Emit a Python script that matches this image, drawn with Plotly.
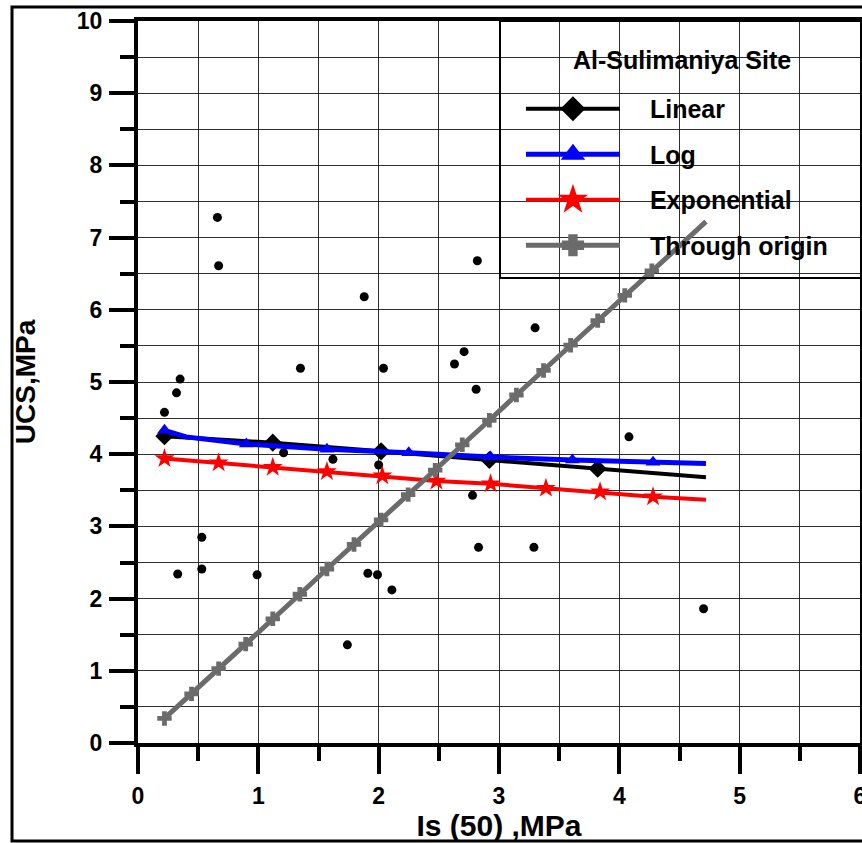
import plotly.graph_objects as go

# ---- data ----
pt_x = [0.66, 0.67, 0.22, 0.32, 0.35, 0.33, 0.53, 0.53, 0.99, 1.21, 1.35, 1.62, 1.74, 1.88, 1.91,
        1.99, 2.00, 2.03, 2.04, 2.11, 2.63, 2.71, 2.81, 2.78, 2.83, 2.82, 3.30, 3.29, 4.08, 4.70]
pt_y = [7.28, 6.61, 4.58, 4.85, 5.04, 2.34, 2.85, 2.41, 2.33, 4.02, 5.19, 3.93, 1.36, 6.18, 2.35,
        2.33, 3.85, 4.03, 5.19, 2.12, 5.25, 5.42, 4.90, 3.43, 2.71, 6.68, 5.75, 2.71, 4.24, 1.86]

lin_x = [0.22, 1.12, 2.02, 2.92, 3.82, 4.72]
lin_y = [4.25, 4.16, 4.04, 3.92, 3.80, 3.68]
lin_mx = [0.22, 1.12, 2.02, 2.92, 3.82]
lin_my = [4.25, 4.16, 4.04, 3.92, 3.80]

log_x = [0.22, 0.40, 0.90, 1.57, 2.25, 2.93, 3.61, 4.28, 4.72]
log_y = [4.33, 4.24, 4.14, 4.07, 4.02, 3.96, 3.92, 3.89, 3.87]
log_mx = [0.22, 0.90, 1.57, 2.25, 2.93, 3.61, 4.28]
log_my = [4.33, 4.14, 4.07, 4.02, 3.96, 3.92, 3.89]

exp_x = [0.22, 0.67, 1.12, 1.57, 2.03, 2.48, 2.93, 3.39, 3.84, 4.28, 4.72]
exp_y = [3.94, 3.88, 3.82, 3.76, 3.70, 3.63, 3.59, 3.53, 3.48, 3.41, 3.37]

org_x = [0.22, 0.445, 0.67, 0.895, 1.12, 1.345, 1.57, 1.795, 2.02, 2.245, 2.47, 2.695,
         2.92, 3.145, 3.37, 3.595, 3.82, 4.045, 4.27, 4.72]
org_y = [0.34, 0.68, 1.03, 1.37, 1.72, 2.06, 2.41, 2.75, 3.09, 3.44, 3.78, 4.13,
         4.47, 4.82, 5.16, 5.51, 5.85, 6.20, 6.54, 7.22]

series_names = ["Linear", "Log", "Exponential", "Through origin"]
legend_title = "Al-Sulimaniya Site"
x_title = "Is (50) ,MPa"
y_title = "UCS,MPa"

BLACK = "#000000"
BLUE = "#0000ff"
RED = "#ff0000"
GRAY = "#6b6b6b"
FONT = "Liberation Sans, Arial, sans-serif"
GRID = "#2e2e2e"

fig = go.Figure()

# observed points
fig.add_trace(go.Scatter(x=pt_x, y=pt_y, mode="markers", showlegend=False,
                         marker=dict(color=BLACK, size=9)))

fits = [
    (series_names[0], lin_x, lin_y, lin_mx, lin_my, BLACK, 4, "diamond", 14),
    (series_names[1], log_x, log_y, log_mx, log_my, BLUE, 5, "triangle-up", 13),
    (series_names[2], exp_x, exp_y, exp_x[:-1], exp_y[:-1], RED, 4, "star", 15),
    (series_names[3], org_x, org_y, org_x[:-1], org_y[:-1], GRAY, 5, "cross", 12),
]
for i, (nm, lx, ly, mx, my, col, lw, sym, ms) in enumerate(fits):
    fig.add_trace(go.Scatter(x=lx, y=ly, mode="lines", showlegend=False,
                             line=dict(color=col, width=lw)))
    fig.add_trace(go.Scatter(x=mx, y=my, mode="markers", showlegend=False,
                             marker=dict(color=col, size=ms, symbol=sym, line=dict(width=0))))
    fig.add_trace(go.Scatter(x=[None], y=[None], mode="lines+markers",
                             name="\u2002\u2002" + nm,
                             legendgroup="g%d" % i,
                             line=dict(color=col, width=lw),
                             marker=dict(color=col, size=16, symbol=sym,
                                         line=dict(width=3, color=col))))

axis_common = dict(
    showline=True, linewidth=4, linecolor=BLACK, mirror=True,
    ticks="outside", tickwidth=4, tickcolor=BLACK,
    showgrid=True, gridcolor=GRID, gridwidth=1.3,
    zeroline=False, dtick=1, tick0=0, automargin=False,
    ticklabeloverflow="allow",
    tickfont=dict(family=FONT, size=23, color=BLACK, weight="bold"),
)

fig.update_xaxes(
    range=[0, 6], ticklen=27, ticklabelstandoff=2,
    minor=dict(dtick=0.5, ticks="outside", ticklen=14, tickwidth=4, tickcolor=BLACK,
               showgrid=True, gridcolor=GRID, gridwidth=1.3),
    title=dict(text=x_title, standoff=4,
               font=dict(family=FONT, size=30, color=BLACK, weight="bold")),
    **axis_common)
fig.update_yaxes(
    range=[0, 10], ticklen=25, ticklabelstandoff=2,
    minor=dict(dtick=0.5, ticks="outside", ticklen=14, tickwidth=4, tickcolor=BLACK,
               showgrid=True, gridcolor=GRID, gridwidth=1.3),
    title=dict(text=y_title, standoff=34,
               font=dict(family=FONT, size=28, color=BLACK, weight="bold")),
    **axis_common)

# outer frame and legend box (decoration in paper coords)
shapes = [
    dict(type="rect", xref="paper", yref="paper", x0=-0.1745, x1=1.03, y0=-0.1357, y1=1.0194,
         line=dict(color=BLACK, width=3), fillcolor="rgba(0,0,0,0)", layer="above"),
    dict(type="rect", xref="paper", yref="paper", x0=0.5014, x1=1.03, y0=0.644, y1=1.0,
         line=dict(color=BLACK, width=2), fillcolor="rgba(0,0,0,0)", layer="above"),
]
annotations = [
    dict(text=legend_title, xref="paper", yref="paper", x=0.7535, y=0.946,
         xanchor="center", yanchor="middle", showarrow=False,
         font=dict(family=FONT, size=25, color=BLACK, weight="bold")),
]
fig.update_layout(
    width=862, height=843,
    margin=dict(l=138, r=2, t=21, b=100),
    paper_bgcolor="white", plot_bgcolor="white",
    shapes=shapes, annotations=annotations,
    legend=dict(
        x=0.5304, y=0.91, xanchor="left", yanchor="top",
        bgcolor="rgba(0,0,0,0)", borderwidth=0,
        traceorder="grouped", tracegroupgap=10, itemwidth=94,
        font=dict(family=FONT, size=25, color=BLACK, weight="bold"),
    ),
)

fig.write_html("out.html", config={"displayModeBar": False},
               post_script="document.body.style.margin='0';")
